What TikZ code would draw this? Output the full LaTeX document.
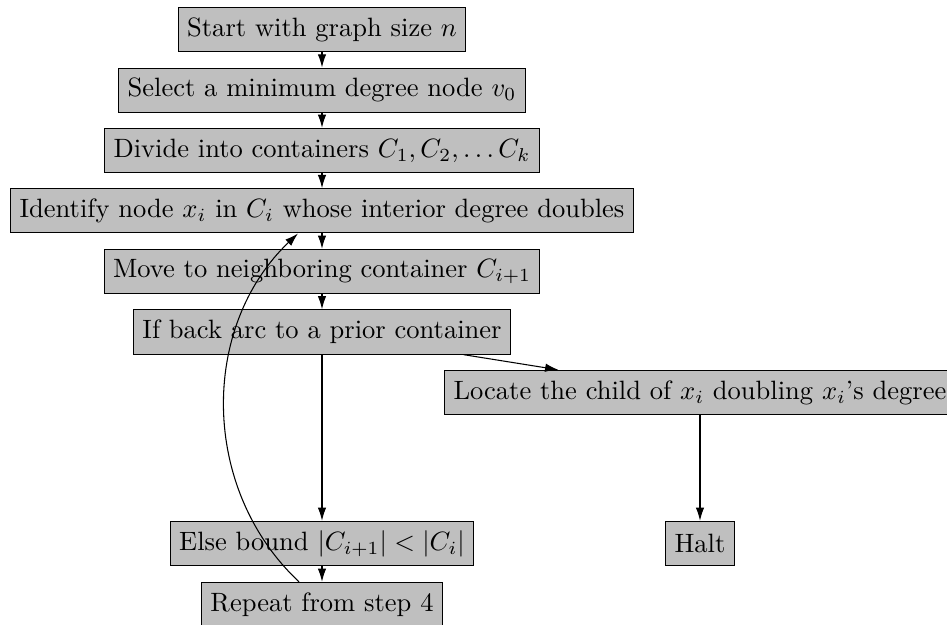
\documentclass[tikz,border=0pt]{standalone}
\usetikzlibrary{arrows.meta,calc}
\begin{document}
\begin{tikzpicture}[x=0.37707pt,y=-0.37707pt,
  box/.style={draw, fill=gray!50, minimum height=16.7pt, inner sep=3.33pt},
  arr/.style={-{Latex[length=5pt,width=3.2pt]}}]
\useasboundingbox (0,0) rectangle (947,625);
\node[box] (start)    at (322,29.8)  {Start with graph size $n$};
\node[box] (select)   at (322,90.2)  {Select a minimum degree node $v_0$};
\node[box] (divide)   at (322,150.5) {Divide into containers $C_1, C_2, \ldots C_k$};
\node[box] (identify) at (322,210.8) {Identify node $x_i$ in $C_i$ whose interior degree doubles};
\node[box] (move)     at (322,271.5) {Move to neighboring container $C_{i+1}$};
\node[box] (ifback)   at (322,332)   {If back arc to a prior container};
\node[box] (locate)   at (700,392.5) {Locate the child of $x_i$ doubling $x_i$'s degree};
\node[box] (elseb)    at (322,543.5) {Else bound $|C_{i+1}| < |C_i|$};
\node[box] (halt)     at (700,543.5) {Halt};
\node[box] (repeat)   at (322,604.5) {Repeat from step 4};
\draw[arr] (start) -- (select);
\draw[arr] (select) -- (divide);
\draw[arr] (divide) -- (identify);
\draw[arr] (identify) -- (move);
\draw[arr] (move) -- (ifback);
\draw[arr] (ifback) -- (locate);
\draw[arr] (ifback) -- (elseb);
\draw[arr] (locate) -- (halt);
\draw[arr] (elseb) -- (repeat);
\draw[arr] ($(repeat.north)+(-23,0)$) .. controls +(-99,-93) and +(-98,93) .. ($(identify.south)+(-24,0)$);
\end{tikzpicture}
\end{document}
